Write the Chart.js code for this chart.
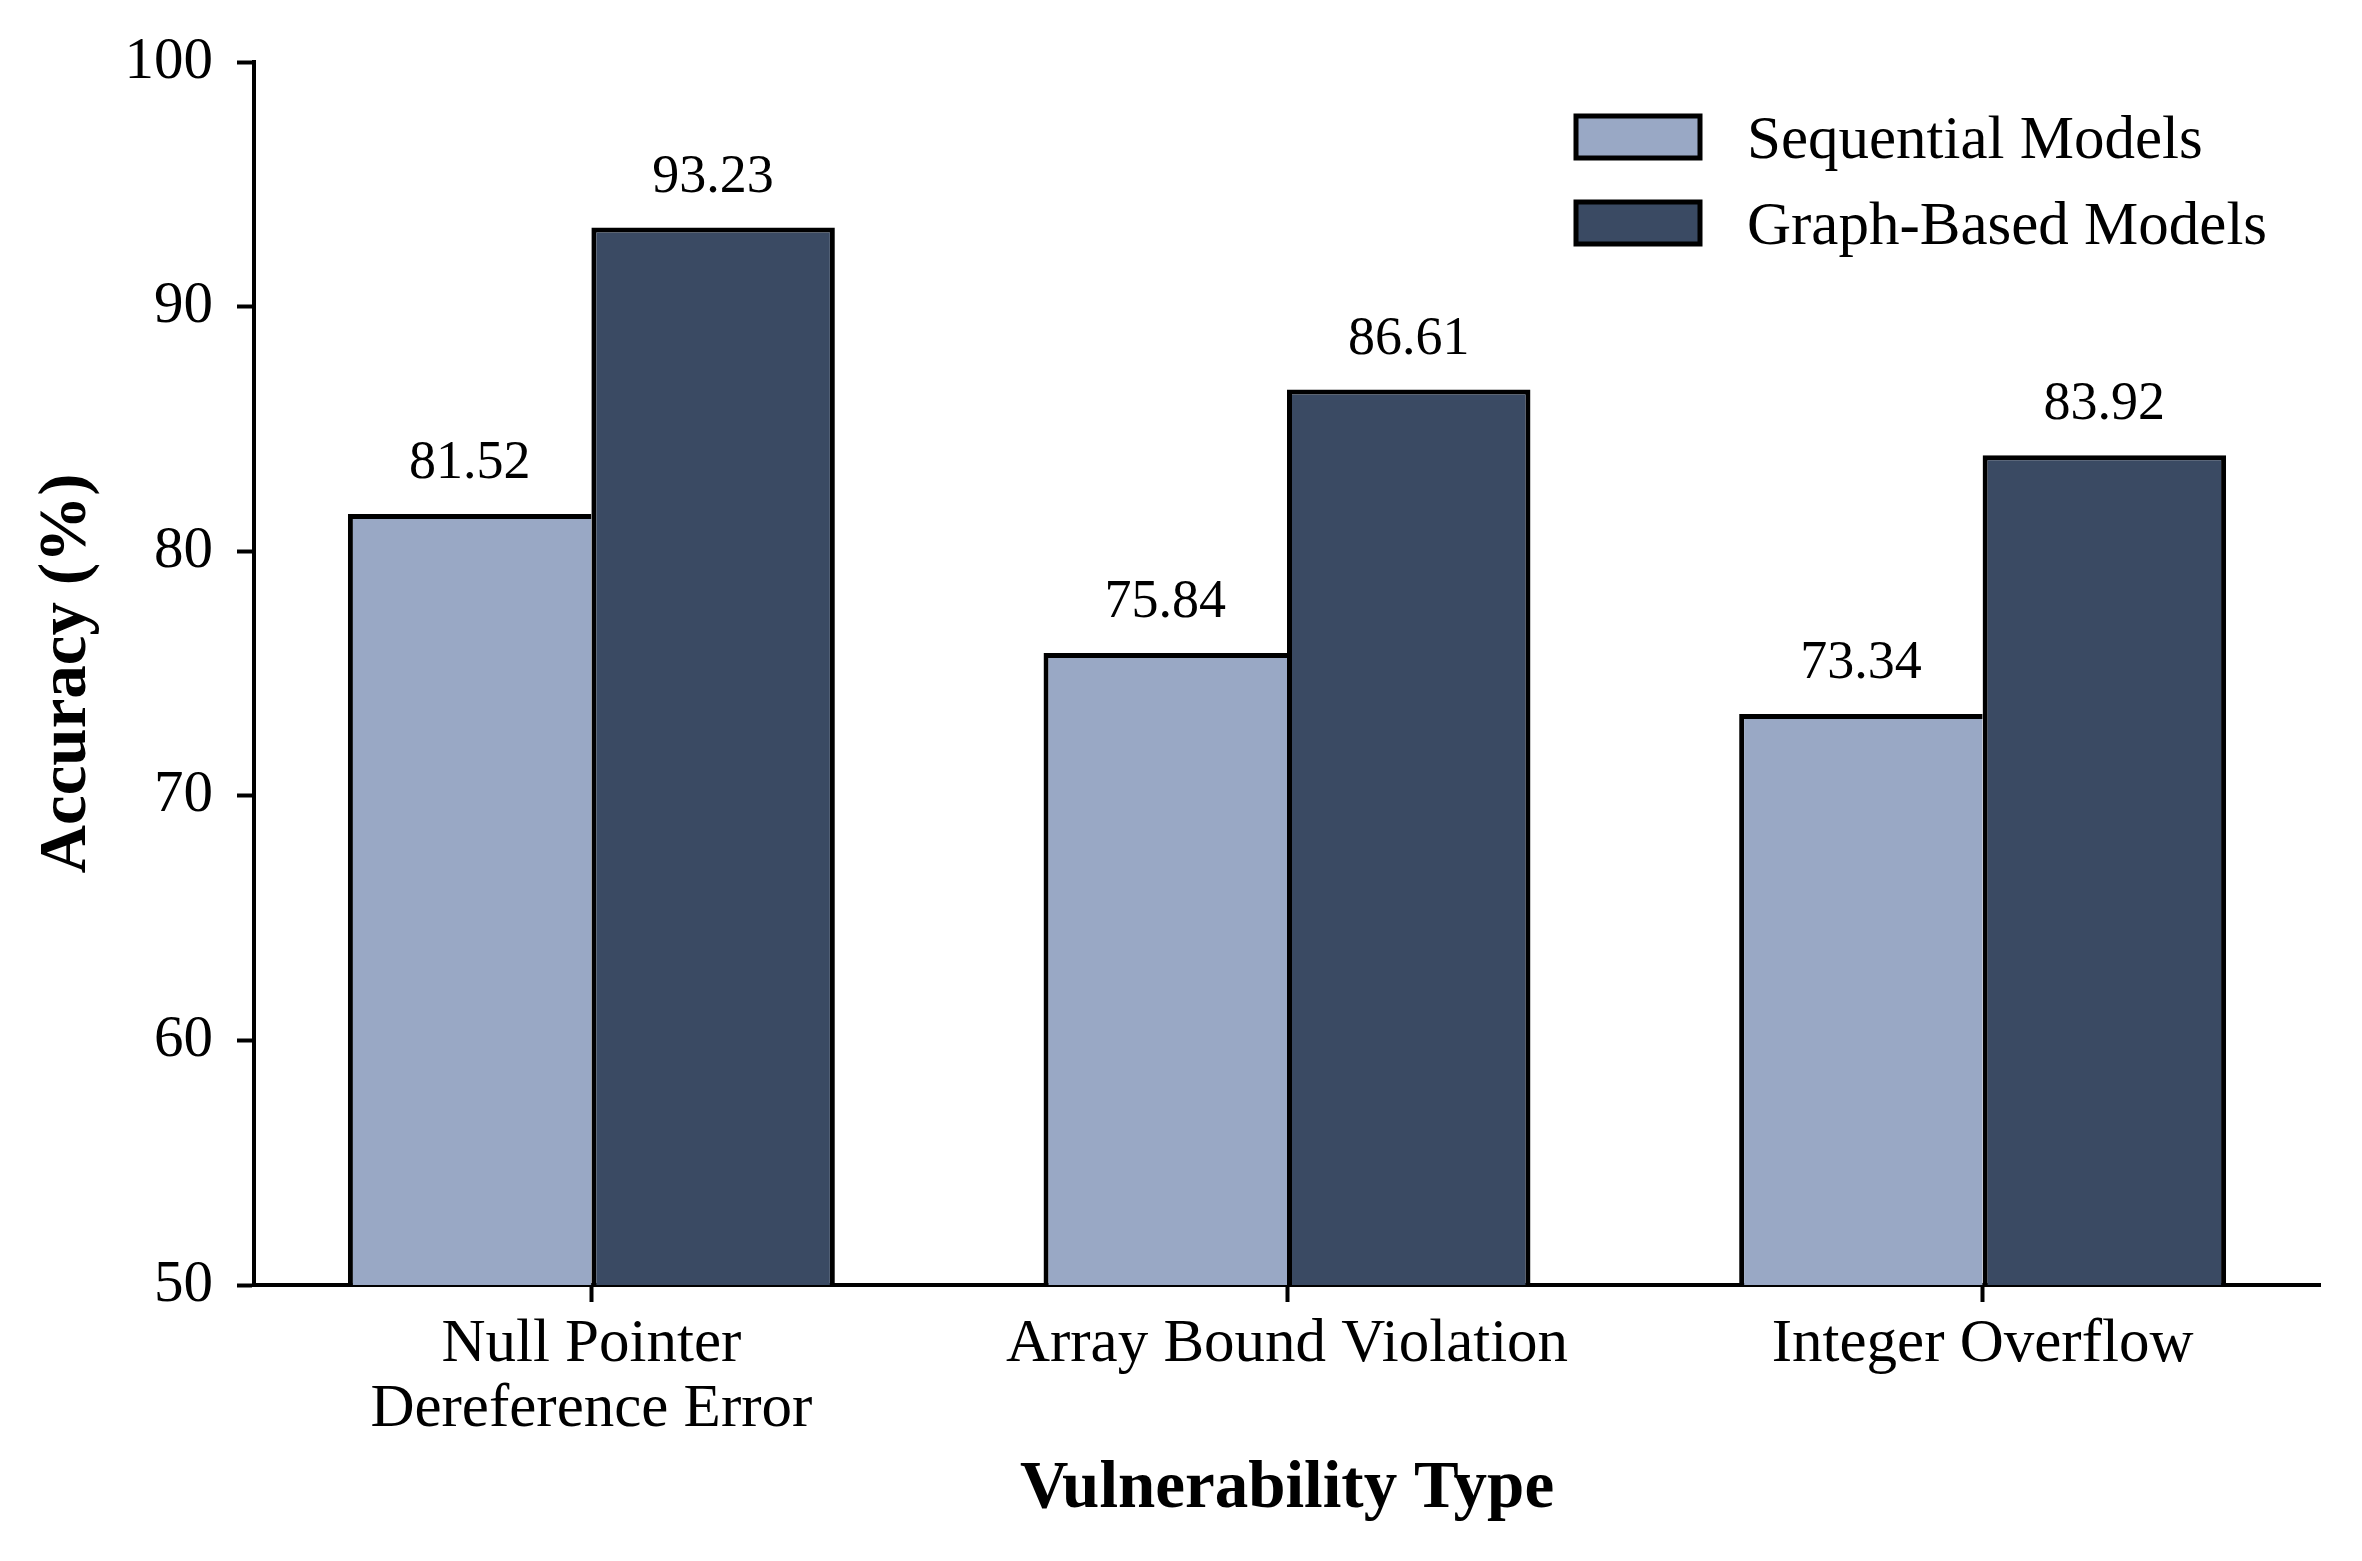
<!DOCTYPE html>
<html lang="en">
<head>
  <meta charset="UTF-8">
  <title>Accuracy by Vulnerability Type</title>
  <style>
    body { margin:0; padding:0; background:#fff; }
    .wrap { width:2362px; height:1561px; position:relative; }
  </style>
</head>
<body>
  <div class="wrap">
    <canvas id="chart"></canvas>
  </div>

  <script src="https://cdn.jsdelivr.net/npm/chart.js"></script>
  <script>
    // data
    const categories = [['Null Pointer', 'Dereference Error'], 'Array Bound Violation', 'Integer Overflow'];
    const seriesNames = ['Sequential Models', 'Graph-Based Models'];
    const sequentialValues = [81.52, 75.84, 73.34];
    const graphValues = [93.23, 86.61, 83.92];
    const yMin = 50, yMax = 100, yStep = 10;

    const FONT = "'Liberation Serif', 'Times New Roman', serif";
    const lightColor = '#99a8c5';
    const darkColor = '#3a4a63';

    // value labels above each bar
    const valueLabels = {
      id: 'valueLabels',
      afterDatasetsDraw(chart) {
        const ctx = chart.ctx;
        ctx.save();
        ctx.font = '54px ' + FONT;
        ctx.fillStyle = '#000';
        ctx.textAlign = 'center';
        ctx.textBaseline = 'alphabetic';
        chart.data.datasets.forEach((ds, di) => {
          chart.getDatasetMeta(di).data.forEach((bar, i) => {
            ctx.fillText(ds.data[i].y.toFixed(2), bar.x, bar.y - 36);
          });
        });
        ctx.restore();
      }
    };

    // legend in the upper right, stacked like matplotlib
    const stackedLegend = {
      id: 'stackedLegend',
      afterDraw(chart) {
        const ctx = chart.ctx;
        ctx.save();
        chart.data.datasets.forEach((ds, i) => {
          const y = 116 + i * 86;
          ctx.fillStyle = ds.backgroundColor;
          ctx.fillRect(1576, y, 124, 42);
          ctx.lineWidth = 5;
          ctx.strokeStyle = '#000';
          ctx.strokeRect(1576, y, 124, 42);
          ctx.fillStyle = '#000';
          ctx.font = '61px ' + FONT;
          ctx.textAlign = 'left';
          ctx.textBaseline = 'middle';
          ctx.fillText(ds.label, 1747, y + 26);
        });
        ctx.restore();
      }
    };

    new Chart(document.getElementById('chart'), {
      type: 'bar',
      data: {
        datasets: [
          {
            label: seriesNames[0],
            data: sequentialValues.map((v, i) => ({ x: i, y: v })),
            backgroundColor: lightColor,
            borderColor: '#000',
            borderWidth: { top: 5, left: 5, right: 0, bottom: 0 },
            borderSkipped: false
          },
          {
            label: seriesNames[1],
            data: graphValues.map((v, i) => ({ x: i, y: v })),
            backgroundColor: darkColor,
            borderColor: '#000',
            borderWidth: { top: 5, left: 5, right: 5, bottom: 0 },
            borderSkipped: false
          }
        ]
      },
      options: {
        responsive: true,
        maintainAspectRatio: false,
        devicePixelRatio: 1,
        animation: false,
        categoryPercentage: 0.7,
        barPercentage: 1.0,
        layout: { padding: { left: 0, right: 42, top: 62, bottom: 0 } },
        plugins: { legend: { display: false }, tooltip: { enabled: false } },
        scales: {
          x: {
            type: 'linear',
            min: -0.485,
            max: 2.485,
            offset: false,
            afterBuildTicks: (axis) => { axis.ticks = categories.map((_, i) => ({ value: i })); },
            afterFit: (scale) => { scale.height = 276; },
            grid: { offset: false, drawOnChartArea: false, drawTicks: true, tickLength: 17, tickWidth: 4, tickColor: '#000' },
            border: { display: true, color: '#000', width: 4 },
            ticks: {
              autoSkip: false, maxRotation: 0, padding: 10,
              color: '#000',
              font: { family: FONT, size: 61, lineHeight: 1.07 },
              callback: (value) => categories[value]
            },
            title: {
              display: true, text: 'Vulnerability Type', color: '#000',
              font: { family: FONT, size: 67, weight: 'bold', lineHeight: 1 },
              padding: { top: 0, bottom: 38 }
            }
          },
          y: {
            min: yMin,
            max: yMax,
            afterFit: (scale) => { scale.width = 254; },
            grid: { drawOnChartArea: false, drawTicks: true, tickLength: 17, tickWidth: 4, tickColor: '#000' },
            border: { display: true, color: '#000', width: 4 },
            ticks: {
              stepSize: yStep, padding: 24,
              color: '#000',
              font: { family: FONT, size: 59 }
            },
            title: {
              display: true, text: 'Accuracy (%)', color: '#000',
              font: { family: FONT, size: 67, weight: 'bold', lineHeight: 1 },
              padding: { top: 34, bottom: 0 }
            }
          }
        }
      },
      plugins: [valueLabels, stackedLegend]
    });
  </script>
</body>
</html>
